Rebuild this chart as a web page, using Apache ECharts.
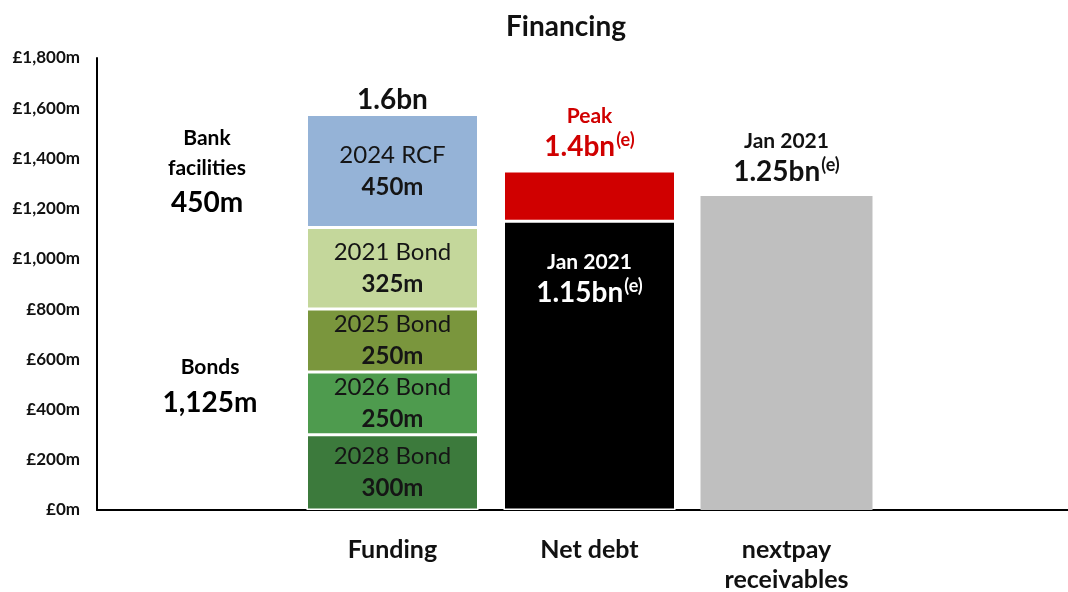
<!DOCTYPE html>
<html>
<head>
<meta charset="utf-8">
<title>Financing</title>
<script src="https://cdn.jsdelivr.net/npm/echarts@6/dist/echarts.min.js"></script>
<style>
  html, body { margin: 0; padding: 0; background: #fff; overflow: hidden; }
  #chart { width: 1068px; height: 592px; }
</style>
</head>
<body>
<div id="chart"></div>
<script>
// Category slots: blank slots either side leave room for the left-hand notes
const categories = ['', 'Funding', 'Net debt', 'nextpay\nreceivables', ''];

// Funding stack, bottom to top (£m)
const fundingNames = ['2028 Bond', '2026 Bond', '2025 Bond', '2021 Bond', '2024 RCF'];
const fundingValues = [300, 250, 250, 325, 450];
const fundingColors = ['#3c7a3c', '#4e9b4e', '#7a963d', '#c4d79b', '#95b3d7'];

// Net debt (£m)
const netDebtJan = 1150;
const netDebtPeak = 1350;

// nextpay receivables (£m)
const receivablesJan = 1250;

const yMin = 0, yMax = 1800, yStep = 200;

const FONT = 'Lato, "Open Sans", sans-serif';

const slot = (idx, v) => categories.map((_, j) => (j === idx ? v : '-'));
const bn = (v, d) => (v / 1000).toFixed(d) + 'bn';

const fundingTotal = fundingValues.reduce((a, b) => a + b, 0);
const bondsTotal = fundingValues.slice(0, 4).reduce((a, b) => a + b, 0);
const bankTotal = fundingValues[4];

// two-line value callouts: small heading, large figure, superscript note
function callout(color) {
  return {
    h: { fontFamily: FONT, fontWeight: 'bold', fontSize: 21, lineHeight: 30, color: color },
    b: { fontFamily: FONT, fontWeight: 'bold', fontSize: 28, lineHeight: 32, color: color },
    s: { fontFamily: FONT, fontWeight: 'bold', fontSize: 18, lineHeight: 32, color: color,
         verticalAlign: 'top', padding: [0, 0, 5, 1] }
  };
}

const series = [];

fundingNames.forEach((name, i) => {
  series.push({
    name: name,
    type: 'bar',
    stack: 'all',
    barWidth: 172,
    data: slot(1, fundingValues[i]),
    itemStyle: { color: fundingColors[i], borderColor: '#fff', borderWidth: 1.5 },
    label: {
      show: true,
      position: 'inside',
      formatter: p => '{n|' + name + '}\n{v|' + p.value + 'm}',
      rich: {
        n: { fontFamily: FONT, fontSize: 24, color: '#151515', lineHeight: 32 },
        v: { fontFamily: FONT, fontSize: 24, fontWeight: 'bold', color: '#151515', lineHeight: 32 }
      }
    }
  });
});

series.push({
  name: 'Net debt Jan 2021',
  type: 'bar',
  stack: 'all',
  data: slot(2, netDebtJan),
  itemStyle: { color: '#000', borderColor: '#fff', borderWidth: 1.5 },
  label: {
    show: true,
    position: 'insideTop',
    distance: 26,
    formatter: p => '{h|Jan 2021}\n{b|' + bn(p.value, 2) + '}{s|(e)}',
    rich: callout('#fff')
  }
});

series.push({
  name: 'Net debt peak',
  type: 'bar',
  stack: 'all',
  data: slot(2, netDebtPeak - netDebtJan),
  itemStyle: { color: '#d00000', borderColor: '#fff', borderWidth: 1.5 },
  label: {
    show: true,
    position: 'top',
    distance: 8,
    formatter: () => '{h|Peak}\n{b|' + bn(netDebtPeak, 1) + '}{s|(e)}',
    rich: callout('#d00000')
  }
});

series.push({
  name: 'nextpay receivables',
  type: 'bar',
  stack: 'all',
  data: slot(3, receivablesJan),
  itemStyle: { color: '#bfbfbf' },
  label: {
    show: true,
    position: 'top',
    distance: 8,
    formatter: p => '{h|Jan 2021}\n{b|' + bn(p.value, 2) + '}{s|(e)}',
    rich: callout('#111')
  }
});

// Funding total sits above the stack
series.push({
  name: 'Funding total',
  type: 'scatter',
  symbolSize: 0,
  data: slot(1, fundingTotal),
  silent: true,
  itemStyle: { color: 'rgba(0,0,0,0)', opacity: 1 },
  label: {
    show: true,
    position: 'top',
    distance: 1,
    formatter: p => bn(p.value, 1),
    fontFamily: FONT,
    fontWeight: 'bold',
    fontSize: 28,
    lineHeight: 28,
    color: '#111',
    opacity: 1
  }
});

const fmtMoney = v => '£' + v.toLocaleString('en-GB') + 'm';

const noteRich = {
  h: { fontFamily: FONT, fontWeight: 'bold', fontSize: 21, lineHeight: 30, color: '#111', align: 'center' },
  b: { fontFamily: FONT, fontWeight: 'bold', fontSize: 28, lineHeight: 40, color: '#111', align: 'center' },
  c: { fontFamily: FONT, fontWeight: 'bold', fontSize: 28, lineHeight: 42, color: '#111', align: 'center' }
};

const chart = echarts.init(document.getElementById('chart'), null, { renderer: 'canvas' });

chart.setOption({
  animation: false,
  backgroundColor: '#fff',
  title: {
    text: 'Financing',
    left: 561,
    textAlign: 'center',
    top: 8,
    textStyle: { fontFamily: FONT, fontWeight: 'bold', fontSize: 28, color: '#111' }
  },
  grid: { left: 97, top: 58, height: 452, width: 985, containLabel: false, outerBoundsMode: 'none' },
  xAxis: {
    type: 'category',
    data: categories,
    axisLine: { lineStyle: { color: '#000', width: 2 } },
    axisTick: { show: false },
    axisLabel: {
      interval: 0,
      margin: 25,
      fontFamily: FONT,
      fontWeight: 'bold',
      fontSize: 25,
      lineHeight: 30,
      color: '#111'
    }
  },
  yAxis: {
    type: 'value',
    min: yMin,
    max: yMax,
    interval: yStep,
    splitLine: { show: false },
    axisTick: { show: false },
    axisLine: { show: true, lineStyle: { color: '#000', width: 2 } },
    axisLabel: {
      formatter: fmtMoney,
      margin: 17,
      fontFamily: FONT,
      fontWeight: 'bold',
      fontSize: 17,
      color: '#111'
    }
  },
  graphic: [
    {
      type: 'text',
      x: 207, y: 123,
      style: {
        text: '{h|Bank}\n{h|facilities}\n{b|' + bankTotal + 'm}',
        align: 'center',
        verticalAlign: 'top',
        rich: noteRich
      }
    },
    {
      type: 'text',
      x: 210, y: 352,
      style: {
        text: '{h|Bonds}\n{c|' + bondsTotal.toLocaleString('en-GB') + 'm}',
        align: 'center',
        verticalAlign: 'top',
        rich: noteRich
      }
    }
  ],
  series: series
});
</script>
</body>
</html>
